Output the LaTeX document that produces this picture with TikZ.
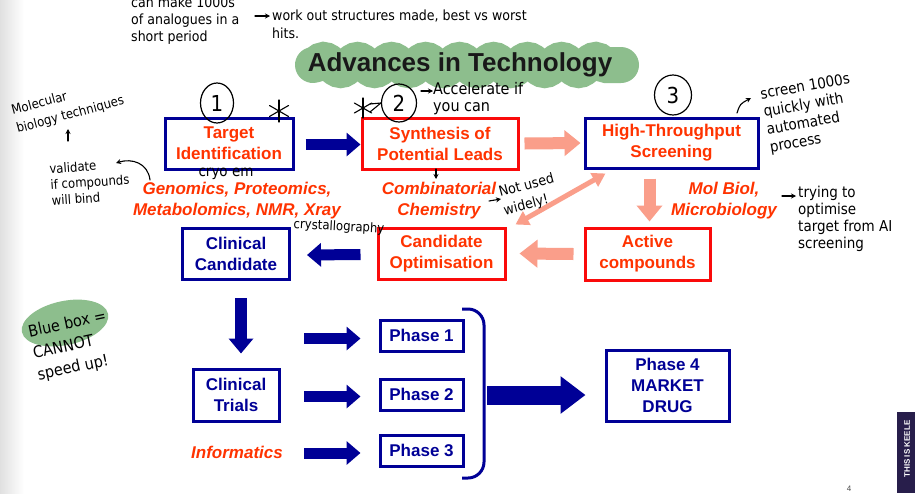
\documentclass[tikz,border=0pt]{standalone}
\usepackage{fontspec}
\setmainfont{Liberation Sans}
\newfontfamily\hand{DejaVu Sans Condensed}
\usetikzlibrary{arrows.meta,shapes.geometric,decorations.pathmorphing}
\definecolor{navy}{RGB}{0,0,150}
\definecolor{boxred}{RGB}{250,10,10}
\definecolor{txtred}{RGB}{255,51,0}
\definecolor{salmon}{RGB}{250,158,138}
\definecolor{hlgreen}{RGB}{141,190,141}
\definecolor{keele}{RGB}{40,30,75}
\tikzset{
  box/.style={line width=3pt, fill=white, align=center, inner sep=0pt,
    font=\bfseries\fontsize{17}{21}\selectfont, text=txtred},
  bluebox/.style={box, draw=navy},
  redbox/.style={box, draw=boxred},
  lbl/.style={font=\bfseries\itshape\fontsize{17}{21}\selectfont, text=txtred, align=center},
  barrow/.style={draw=navy, line width=11pt, -{Triangle[length=14pt,width=23pt]}},
  sarrow/.style={draw=salmon, line width=12pt, -{Triangle[length=16pt,width=25pt]}},
  hw/.style={font=\hand\fontsize{13}{17}\selectfont, text=black, inner sep=0pt},
  hwline/.style={draw=black, line width=1.1pt, line cap=round, line join=round},
  hwarrow/.style={hwline, -{Stealth[length=5pt,width=5pt]}},
  numcirc/.style={draw=black, line width=1.2pt, ellipse, inner sep=0pt,
    font=\hand\fontsize{22}{22}\selectfont}
}
\begin{document}
\begin{tikzpicture}[x=1pt,y=-1pt]
\useasboundingbox (0,0) rectangle (915,493);
\fill[white] (0,0) rectangle (915,493);
\shade[left color=black!12, right color=white] (0,0) rectangle (24,493);

% title with green highlight
\draw[hlgreen, line width=36pt, line cap=round, decorate,
  decoration={snake, segment length=34pt, amplitude=5pt}] (313,65) -- (621,65);
\node[font=\bfseries\fontsize{26}{30}\selectfont, text=black!90] (title) at (460,65) {Advances in Technology};

% boxes
\node[bluebox, minimum width=128pt, minimum height=51pt] (tid) at (229,143.5) {Target\\Identification};
\node[redbox, minimum width=156pt, minimum height=51pt] (syn) at (440,143.5) {Synthesis of\\Potential Leads};
\node[bluebox, minimum width=173pt, minimum height=50pt] (hts) at (671.5,143) {High-Throughput\\Screening};
\node[redbox, minimum width=125pt, minimum height=52pt] (act) at (647.5,254) {Active\\compounds};
\node[redbox, minimum width=127pt, minimum height=51pt] (opt) at (441.5,253.5) {Candidate\\Optimisation};
\node[bluebox, minimum width=107pt, minimum height=51pt, text=navy] (cc) at (236,254) {Clinical\\Candidate};
\node[bluebox, minimum width=86pt, minimum height=52pt, text=navy] (ct) at (236,395) {Clinical\\Trials};
\node[bluebox, minimum width=83pt, minimum height=31pt, text=navy] (p1) at (421.5,335.5) {Phase 1};
\node[bluebox, minimum width=83pt, minimum height=31pt, text=navy] (p2) at (421.5,394.5) {Phase 2};
\node[bluebox, minimum width=83pt, minimum height=31pt, text=navy] (p3) at (421.5,450.5) {Phase 3};
\node[bluebox, minimum width=123pt, minimum height=71pt, text=navy] (p4) at (667.5,385.5) {Phase 4\\MARKET\\DRUG};

% italic labels
\node[lbl] (gen) at (237,201) {Genomics, Proteomics,\\Metabolomics, NMR, Xray};
\node[lbl] (comb) at (439,201) {Combinatorial\\Chemistry};
\node[lbl] (mol) at (724,201) {Mol Biol,\\Microbiology};
\node[lbl] (inf) at (237,452) {Informatics};

% block arrows
\draw[barrow] ([xshift=11pt,yshift=-1pt]tid.east) -- ([yshift=-1pt]syn.west);
\draw[sarrow] ([xshift=5pt]syn.east) -- ([xshift=-3pt]hts.west);
\draw[sarrow] ([xshift=2pt,yshift=-9pt]act.north |- hts.south) -- ([xshift=2pt,yshift=5pt]act.north);
\draw[sarrow, -{Triangle[length=18pt,width=27pt]}] ([xshift=-10pt]act.west) -- ([xshift=13pt]opt.east);
\draw[barrow] ([xshift=-16pt,yshift=-1pt]opt.west) -- ([xshift=16pt,yshift=-1pt]cc.east);
\draw[barrow, line width=12pt, -{Triangle[length=15pt,width=24pt]}] ([xshift=5pt,yshift=-17pt]cc.south) -- ([xshift=5pt,yshift=14pt]ct.north);
\draw[salmon, line width=5pt, {Triangle[length=13pt,width=15pt]}-{Triangle[length=13pt,width=15pt]}]
  ([xshift=9pt,yshift=2pt]opt.north east) -- ([xshift=22pt,yshift=-4pt]hts.south west);

\coordinate (s1) at (304,338.5);
\coordinate (s2) at (304,396.5);
\coordinate (s3) at (304,453);
\draw[barrow] (s1) -- ([xshift=-18pt]s1 -| p1.west);
\draw[barrow] (s2) -- ([xshift=-18pt]s2 -| p2.west);
\draw[barrow] (s3) -- ([xshift=-18pt]s3 -| p3.west);

% bracket and big arrow
\draw[navy, line width=3pt, rounded corners=16pt] (462,309) -- (484,309) -- (484,478) -- (462,478);
\coordinate (bk) at (487,395);
\draw[barrow, line width=19pt, -{Triangle[length=25pt,width=36pt]}] (bk) -- ([xshift=-19pt]bk -| p4.west);

% ===== handwritten annotations =====
\node[hw, anchor=west, align=left, font=\hand\fontsize{14}{17}\selectfont] (make) at (131,21) {can make 1000s\\of analogues in a\\short period};
\node[hw, anchor=west, align=left, font=\hand\fontsize{14}{18}\selectfont] (work) at (272,24) {work out structures made, best vs worst\\hits.};
\coordinate (w0) at (255,16);
\coordinate (w1) at (270,16);
\draw[hwarrow] (w0) -- (w1);

\node[hw, rotate=15, align=left, font=\hand\fontsize{13}{19}\selectfont] (molbio) at (68,106) {Molecular\\biology techniques};
\coordinate (mb0) at (68,141);
\coordinate (mb1) at (68,129);
\draw[hwarrow] (mb0) -- (mb1);

\node[hw, rotate=4, align=left, font=\hand\fontsize{13}{16}\selectfont] (valid) at (90,182) {validate\\if compounds\\will bind};
\coordinate (vc) at (150,180);
\draw[hwarrow] (vc) .. controls (148,163) and (132,158) .. (116,163);

\node[hw, font=\hand\fontsize{15}{15}\selectfont] (cryo) at (226,174) {cryo em};
\node[hw, rotate=-3] (crys) at (339,227) {crystallography};

\node[numcirc, minimum width=33pt, minimum height=40pt] (c1) at (217,103) {1};
\node[numcirc, minimum width=35pt, minimum height=38pt] (c2) at (399,103) {2};
\node[numcirc, minimum width=37pt, minimum height=40pt] (c3) at (673,95) {3};

% asterisks
\foreach \a in {90,30,150} {
  \draw[hwline] (279,111) ++(\a:11) -- ++(\a+180:22);
  \draw[hwline] (363,108) ++(\a:10) -- ++(\a+180:20);
}
\draw[hwline] (370,104) -- (c2.west);
\draw[hwline] (370,112) -- (c2.west);

\node[hw, anchor=west, align=left, font=\hand\fontsize{16}{17}\selectfont] (acc) at (433,99) {Accelerate if\\you can};
\coordinate (a0) at (421,91);
\coordinate (a1) at (433,91);
\draw[hwarrow] (a0) -- (a1);

\coordinate (d0) at (436,169);
\coordinate (d1) at (436,179);
\draw[hwarrow] (d0) -- (d1);

\node[hw, rotate=15, align=left, font=\hand\fontsize{14}{19}\selectfont] (notused) at (529,195) {Not used\\widely!};
\coordinate (n0) at (489,201);
\coordinate (n1) at (501,199);
\draw[hwarrow] (n0) -- (n1);

\node[hw, rotate=10, align=left, font=\hand\fontsize{15}{18}\selectfont] (scr) at (810,114) {screen 1000s\\quickly with\\automated\\process};
\coordinate (q0) at (737,113);
\coordinate (q1) at (751,98);
\draw[hwarrow] (q0) .. controls (740,104) .. (q1);

\node[hw, anchor=west, align=left, font=\hand\fontsize{15}{17}\selectfont] (try) at (798,219) {trying to\\optimise\\target from AI\\screening};
\coordinate (t0) at (782,196);
\coordinate (t1) at (796,196);
\draw[hwarrow] (t0) -- (t1);

\fill[hlgreen, rotate around={12:(65,323)}] (65,323) ellipse (44pt and 22pt);
\node[hw, rotate=12, align=left, font=\hand\fontsize{16}{22}\selectfont] (blue) at (72,346) {Blue box =\\CANNOT\\speed up!};

% footer
\fill[keele] (897,412) rectangle (915,493);
\node[rotate=90, text=white, font=\bfseries\fontsize{8}{9}\selectfont] (keeletxt) at (907,449) {THIS IS KEELE};
\node[font=\fontsize{8}{8}\selectfont, text=black!70, inner sep=0pt] (pg) at (849,489) {4};
\end{tikzpicture}
\end{document}
